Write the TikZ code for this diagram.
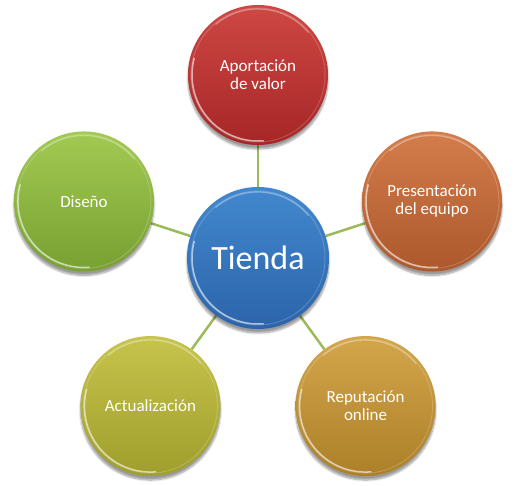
\documentclass[tikz,border=0pt]{standalone}
\usepackage{fontspec}
\setmainfont{Carlito}
\usepackage{xcolor}
\usetikzlibrary{positioning,backgrounds,shadows.blur}

\definecolor{linkgreen}{RGB}{155,187,89}
\definecolor{redtop}{RGB}{206,72,68}
\definecolor{redbot}{RGB}{166,38,38}
\definecolor{orangetop}{RGB}{212,125,76}
\definecolor{orangebot}{RGB}{172,88,44}
\definecolor{goldtop}{RGB}{212,166,76}
\definecolor{goldbot}{RGB}{172,128,40}
\definecolor{olivetop}{RGB}{198,196,76}
\definecolor{olivebot}{RGB}{160,158,44}
\definecolor{greentop}{RGB}{162,202,82}
\definecolor{greenbot}{RGB}{120,160,50}
\definecolor{bluetop}{RGB}{66,136,206}
\definecolor{bluebot}{RGB}{44,100,170}

\begin{document}
\begin{tikzpicture}[
    bubble/.style={circle, minimum size=140pt, inner sep=0pt, align=center,
        text=white, font=\fontsize{17}{18}\selectfont,
        blur shadow={shadow xshift=0pt, shadow yshift=-4pt, shadow blur steps=8, shadow opacity=40},
        path picture={
            \draw[white, opacity=.18, line width=1pt] (path picture bounding box.center) circle (67pt);
            \draw[white, opacity=.6, line width=1.5pt] (path picture bounding box.center) ++(165:66pt)
                arc[start angle=165, end angle=275, radius=66pt];
            \draw[white, opacity=.35, line width=1.2pt] (path picture bounding box.center) ++(40:66pt)
                arc[start angle=40, end angle=130, radius=66pt];
        }},
    hub/.style={bubble, minimum size=142pt, font=\fontsize{34}{36}\selectfont},
    link/.style={draw=linkgreen, line width=2.5pt},
]
    \useasboundingbox (-258pt,-228pt) rectangle (266pt,258pt);

    % centre
    \node[hub, top color=bluetop, bottom color=bluebot] (tienda) {Tienda};

    % ring of topics
    \node[bubble, top color=redtop, bottom color=redbot] (valor) at (90:183pt) {Aportación\\de valor};
    \node[bubble, top color=orangetop, bottom color=orangebot] (equipo) at (18:183pt) {Presentación\\del equipo};
    \node[bubble, top color=goldtop, bottom color=goldbot] (reputacion) at (-54:183pt) {Reputación\\online};
    \node[bubble, top color=olivetop, bottom color=olivebot] (actualizacion) at (-126:183pt) {Actualización};
    \node[bubble, top color=greentop, bottom color=greenbot] (diseno) at (162:183pt) {Diseño};

    % links
    \begin{scope}[on background layer]
        \foreach \n in {valor,equipo,reputacion,actualizacion,diseno}
            \draw[link] (tienda) -- (\n);
    \end{scope}
\end{tikzpicture}
\end{document}
